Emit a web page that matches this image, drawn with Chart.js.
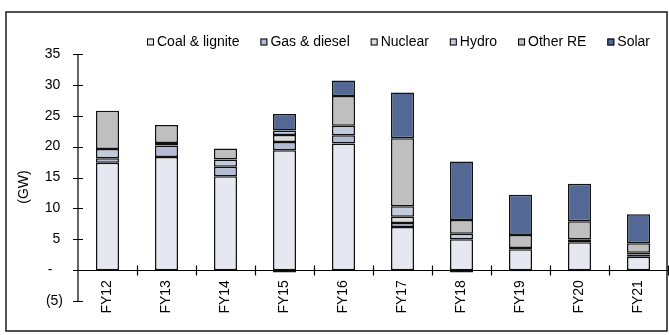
<!DOCTYPE html>
<html>
<head>
<meta charset="utf-8">
<script src="https://cdn.jsdelivr.net/npm/chart.js@4/dist/chart.umd.min.js"></script>
<style>
  html, body { margin: 0; padding: 0; background: #fff; }
  #wrap { position: relative; width: 669px; height: 335px; }
</style>
</head>
<body>
<div id="wrap"><canvas id="c" width="669" height="335"></canvas></div>
<script>
// Fiscal years on the category axis
const years = ['FY12', 'FY13', 'FY14', 'FY15', 'FY16', 'FY17', 'FY18', 'FY19', 'FY20', 'FY21'];

// Net capacity additions by fuel (GW)
const coal    = [17.4, 18.3, 15.2, 19.4, 20.5, 7.0, 5.0, 3.4, 4.5, 2.15];
const gas     = [0.7, 1.9, 1.55, 1.35, 1.35, 0.65, -0.4, -0.2, -0.2, 0.4];
const nuclear = [0, 0, 0, 1.15, 0, 1.0, 0, 0, 0, 0];
const hydro   = [1.5, 0.4, 1.15, 0.7, 1.55, 1.7, 0.9, 0.2, 0.5, 0.25];
const otherRE = [6.2, 2.9, 1.8, -0.4, 4.8, 11.0, 2.2, 2.1, 2.9, 1.55];
const solar   = [0, 0, 0, 2.7, 2.5, 7.4, 9.5, 6.5, 6.1, 4.7];

// Value-axis ticks
const yTicks = [-5, 0, 5, 10, 15, 20, 25, 30, 35];

const FONT = 'Arial, "Liberation Sans", sans-serif';
const FSIZE = 14;

// Accounting-style labels: negatives in brackets, zero as a dash,
// positives padded so digits line up left of the closing bracket
function fmtTick(v) {
  if (v === 0) return '-  \u2009';
  if (v < 0) return '(' + (-v) + ')';
  return String(v) + '\u2009';
}

// Frame, legend, axis title and cross tick marks
const decorations = {
  id: 'decorations',
  afterDraw(chart) {
    const ctx = chart.ctx;
    const x = chart.scales.x, y = chart.scales.y;
    ctx.save();

    // outer frame
    ctx.strokeStyle = '#1a1a1a';
    ctx.lineWidth = 1.5;
    ctx.strokeRect(6, 12, 661, 319);

    // y axis line and cross ticks
    ctx.strokeStyle = '#000';
    ctx.lineWidth = 1.2;
    ctx.beginPath();
    ctx.moveTo(y.left + y.width, y.getPixelForValue(35));
    ctx.lineTo(y.left + y.width, y.getPixelForValue(-5));
    yTicks.forEach(v => {
      const py = Math.round(y.getPixelForValue(v)) + 0.5;
      ctx.moveTo(x.left - 5, py);
      ctx.lineTo(x.left + 5, py);
    });
    // x axis line at zero with cross ticks between categories
    const zy = Math.round(y.getPixelForValue(0)) + 0.5;
    ctx.moveTo(x.left, zy);
    ctx.lineTo(x.right, zy);
    const step = x.getPixelForValue(1) - x.getPixelForValue(0);
    for (let i = 0; i < years.length; i++) {
      const px = Math.round(x.getPixelForValue(i) + step / 2) + 0.5;
      ctx.moveTo(px, zy - 5);
      ctx.lineTo(px, zy + 5);
    }
    ctx.stroke();

    // axis title
    ctx.fillStyle = '#000';
    ctx.font = FSIZE + 'px ' + FONT;
    ctx.textAlign = 'center';
    ctx.textBaseline = 'middle';
    ctx.translate(24, 187);
    ctx.rotate(-Math.PI / 2);
    ctx.fillText('(GW)', 0, 0);
    ctx.setTransform(1, 0, 0, 1, 0, 0);

    // legend, spread between the given left and right edges
    ctx.font = FSIZE + 'px ' + FONT;
    ctx.textAlign = 'left';
    ctx.textBaseline = 'middle';
    const sets = chart.data.datasets;
    const left = 147, right = 650, ly = 42, box = 7, gapBox = 3;
    const textW = sets.map(d => ctx.measureText(d.label).width);
    const used = textW.reduce((a, b) => a + b, 0) + sets.length * (box + gapBox);
    const gap = (right - left - used) / (sets.length - 1);
    let lx = left;
    sets.forEach((d, i) => {
      ctx.fillStyle = d.backgroundColor;
      ctx.fillRect(lx, ly - 3.5, box, box);
      ctx.strokeStyle = '#000';
      ctx.lineWidth = 1;
      ctx.strokeRect(lx + 0.5, ly - 3, box - 1, box - 1);
      ctx.fillStyle = '#000';
      ctx.fillText(d.label, lx + box + gapBox, ly + 0.5);
      lx += box + gapBox + textW[i] + gap;
    });
    ctx.restore();
  }
};

const colors = {
  coal: '#e5e8f0',
  gas: '#b3bcd4',
  nuclear: '#dcdcdc',
  hydro: '#c2cade',
  otherRE: '#bfbfbf',
  solar: '#536894'
};

function ds(label, data, color) {
  return {
    label, data,
    backgroundColor: color,
    borderColor: '#111',
    borderWidth: 1.5,
    borderSkipped: false,
    categoryPercentage: 1,
    barPercentage: 0.39
  };
}

new Chart(document.getElementById('c'), {
  type: 'bar',
  data: {
    labels: years,
    datasets: [
      ds('Coal & lignite', coal, colors.coal),
      ds('Gas & diesel', gas, colors.gas),
      ds('Nuclear', nuclear, colors.nuclear),
      ds('Hydro', hydro, colors.hydro),
      ds('Other RE', otherRE, colors.otherRE),
      ds('Solar', solar, colors.solar)
    ]
  },
  options: {
    responsive: false,
    animation: false,
    layout: { padding: { top: 54, bottom: 34, left: 0, right: 1 } },
    plugins: { legend: { display: false }, tooltip: { enabled: false } },
    scales: {
      x: {
        stacked: true,
        position: { y: 0 },
        grid: { display: false, drawTicks: false },
        border: { display: false },
        ticks: {
          color: '#000',
          font: { family: FONT, size: FSIZE },
          maxRotation: 90, minRotation: 90,
          padding: 10
        }
      },
      y: {
        stacked: true,
        min: -5, max: 35,
        afterFit(scale) { scale.width = 78; },
        grid: { display: false, drawTicks: false },
        border: { display: false },
        ticks: {
          stepSize: 5,
          color: '#000',
          font: { family: FONT, size: FSIZE },
          padding: 15,
          callback: v => fmtTick(v)
        }
      }
    }
  },
  plugins: [decorations]
});
</script>
</body>
</html>
